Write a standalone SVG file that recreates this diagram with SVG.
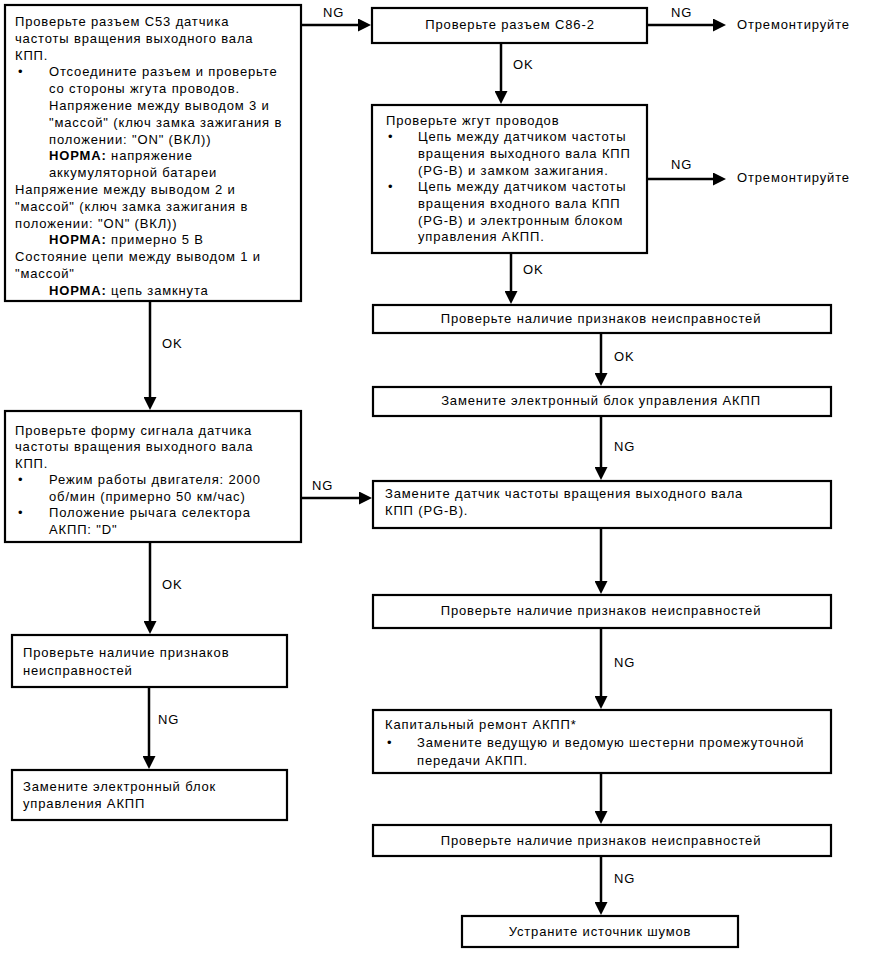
<svg xmlns="http://www.w3.org/2000/svg" width="876" height="954" viewBox="0 0 876 954">
<defs>
<style>
text{font-family:"Liberation Sans",Arial,sans-serif;font-size:13px;letter-spacing:0.85px;fill:#000}
.c{text-anchor:middle}
.b{font-weight:bold}
.box{fill:#fff;stroke:#000;stroke-width:2.2}
.ln{fill:none;stroke:#000;stroke-width:2.5}
</style>
<marker id="ah" markerUnits="userSpaceOnUse" markerWidth="13" markerHeight="13" refX="9" refY="6.5" orient="auto">
<path d="M0,0 L13,6.5 L0,13 z" fill="#000"/>
</marker>
</defs>
<rect width="876" height="954" fill="#fff"/>

<g id="connectors">
<path class="ln" d="M301,25 L367,25" marker-end="url(#ah)"/>
<text x="323" y="17">NG</text>
<path class="ln" d="M647,25 L722,25" marker-end="url(#ah)"/>
<text x="671" y="17">NG</text>
<text x="737" y="29">Отремонтируйте</text>
<path class="ln" d="M501,43 L501,100" marker-end="url(#ah)"/>
<text x="513" y="69">OK</text>
<path class="ln" d="M647,179 L722,179" marker-end="url(#ah)"/>
<text x="671" y="169">NG</text>
<text x="737" y="182">Отремонтируйте</text>
<path class="ln" d="M511,253 L511,300" marker-end="url(#ah)"/>
<text x="523" y="274">OK</text>
<path class="ln" d="M601,333 L601,382" marker-end="url(#ah)"/>
<text x="614" y="361">OK</text>
<path class="ln" d="M601,416 L601,476" marker-end="url(#ah)"/>
<text x="614" y="451">NG</text>
<path class="ln" d="M601,528 L601,590" marker-end="url(#ah)"/>
<path class="ln" d="M601,628 L601,705" marker-end="url(#ah)"/>
<text x="614" y="667">NG</text>
<path class="ln" d="M601,773 L601,820" marker-end="url(#ah)"/>
<path class="ln" d="M601,856 L601,911" marker-end="url(#ah)"/>
<text x="614" y="883">NG</text>
<path class="ln" d="M150,301 L150,406" marker-end="url(#ah)"/>
<text x="162" y="348">OK</text>
<path class="ln" d="M301,498 L368,498" marker-end="url(#ah)"/>
<text x="312" y="490">NG</text>
<path class="ln" d="M150,542 L150,630" marker-end="url(#ah)"/>
<text x="162" y="589">OK</text>
<path class="ln" d="M149,687 L149,765" marker-end="url(#ah)"/>
<text x="158" y="724">NG</text>
</g>

<g id="n1">
<rect class="box" x="5" y="5" width="296" height="296"/>
<text x="15" y="26">Проверьте разъем C53 датчика</text>
<text x="15" y="42.8">частоты вращения выходного вала</text>
<text x="15" y="59.6">КПП.</text>
<text x="18" y="76.4">•</text>
<text x="49" y="76.4">Отсоедините разъем и проверьте</text>
<text x="49" y="93.2">со стороны жгута проводов.</text>
<text x="49" y="110">Напряжение между выводом 3 и</text>
<text x="49" y="126.8">"массой" (ключ замка зажигания в</text>
<text x="49" y="143.6">положении: "ON" (ВКЛ))</text>
<text x="49" y="160.4"><tspan class="b">НОРМА:</tspan> напряжение</text>
<text x="49" y="177.2">аккумуляторной батареи</text>
<text x="15" y="194">Напряжение между выводом 2 и</text>
<text x="15" y="210.8">"массой" (ключ замка зажигания в</text>
<text x="15" y="227.6">положении: "ON" (ВКЛ))</text>
<text x="49" y="244.4"><tspan class="b">НОРМА:</tspan> примерно 5 В</text>
<text x="15" y="261.2">Состояние цепи между выводом 1 и</text>
<text x="15" y="278">"массой"</text>
<text x="49" y="294.8"><tspan class="b">НОРМА:</tspan> цепь замкнута</text>
</g>

<g id="n2">
<rect class="box" x="372" y="8" width="275" height="35"/>
<text class="c" x="510" y="29">Проверьте разъем C86-2</text>
</g>

<g id="n3">
<rect class="box" x="372" y="105" width="275" height="148"/>
<text x="386" y="124.5">Проверьте жгут проводов</text>
<text x="388" y="141.2">•</text>
<text x="418" y="141.2">Цепь между датчиком частоты</text>
<text x="418" y="157.9">вращения выходного вала КПП</text>
<text x="418" y="174.6">(PG-B) и замком зажигания.</text>
<text x="388" y="191.3">•</text>
<text x="418" y="191.3">Цепь между датчиком частоты</text>
<text x="418" y="208">вращения входного вала КПП</text>
<text x="418" y="224.7">(PG-B) и электронным блоком</text>
<text x="418" y="241.4">управления АКПП.</text>
</g>

<g id="n4">
<rect class="box" x="373" y="305" width="458" height="28"/>
<text class="c" x="601" y="323">Проверьте наличие признаков неисправностей</text>
</g>

<g id="n5">
<rect class="box" x="5" y="411" width="296" height="131"/>
<text x="15" y="434.5">Проверьте форму сигнала датчика</text>
<text x="15" y="451">частоты вращения выходного вала</text>
<text x="15" y="467.5">КПП.</text>
<text x="18" y="484">•</text>
<text x="49" y="484">Режим работы двигателя: 2000</text>
<text x="49" y="500.5">об/мин (примерно 50 км/час)</text>
<text x="18" y="517">•</text>
<text x="49" y="517">Положение рычага селектора</text>
<text x="49" y="533.5">АКПП: "D"</text>
</g>

<g id="n6">
<rect class="box" x="373" y="387" width="458" height="29"/>
<text class="c" x="601" y="405">Замените электронный блок управления АКПП</text>
</g>

<g id="n7">
<rect class="box" x="12" y="635" width="275" height="52"/>
<text x="23" y="657">Проверьте наличие признаков</text>
<text x="23" y="674.5">неисправностей</text>
</g>

<g id="n8">
<rect class="box" x="373" y="481" width="458" height="47"/>
<text x="385" y="498">Замените датчик частоты вращения выходного вала</text>
<text x="385" y="514.5">КПП (PG-B).</text>
</g>

<g id="n9">
<rect class="box" x="373" y="595" width="458" height="33"/>
<text class="c" x="601" y="615">Проверьте наличие признаков неисправностей</text>
</g>

<g id="n10">
<rect class="box" x="373" y="710" width="458" height="63"/>
<text x="385" y="729">Капитальный ремонт АКПП*</text>
<text x="387" y="747">•</text>
<text x="417" y="747">Замените ведущую и ведомую шестерни промежуточной</text>
<text x="417" y="764.5">передачи АКПП.</text>
</g>

<g id="n11">
<rect class="box" x="373" y="825" width="458" height="31"/>
<text class="c" x="601" y="844.5">Проверьте наличие признаков неисправностей</text>
</g>

<g id="n12">
<rect class="box" x="462" y="916" width="276" height="31"/>
<text class="c" x="600" y="936">Устраните источник шумов</text>
</g>

<g id="n13">
<rect class="box" x="12" y="770" width="275" height="50"/>
<text x="23" y="791">Замените электронный блок</text>
<text x="23" y="808">управления АКПП</text>
</g>
</svg>
